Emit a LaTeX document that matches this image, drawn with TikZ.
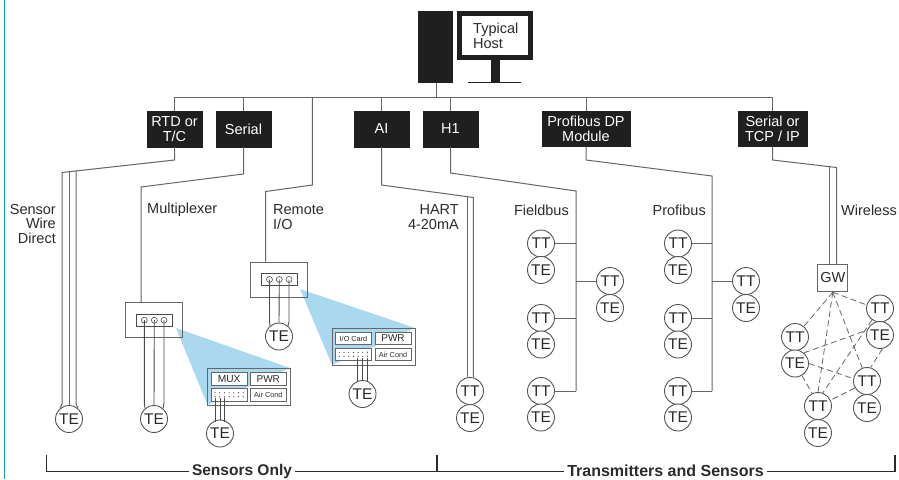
\documentclass[tikz,border=0pt]{standalone}
\usepackage{fontspec}
\setmainfont{Liberation Sans}
\definecolor{ink}{HTML}{2B2B2B}
\definecolor{wire}{HTML}{666666}
\definecolor{blk}{HTML}{1F1F1F}
\definecolor{edgeblue}{HTML}{12A0DC}
\definecolor{wedge}{HTML}{AAD8EE}
\tikzset{
  lbl/.style={inner sep=0pt,text=ink,font=\fontsize{14.5}{14.5}\selectfont},
  card/.style={draw=blk,fill=blk,text=white,inner sep=0pt,align=center,font=\fontsize{14.5}{14.5}\selectfont},
  wirel/.style={draw=wire,line width=1pt,line join=miter},
  wired/.style={draw=ink!85,line width=0.9pt},
  inst/.style={circle,draw=ink!80,line width=0.9pt,fill=white,minimum size=27pt,inner sep=0pt,text=ink,font=\fontsize{15.5}{15.5}\selectfont},
  radio/.style={draw=wire,line width=0.8pt,dash pattern=on 6pt off 3.5pt},
  cell/.style={draw=wire,line width=0.8pt,fill=white,inner sep=0pt,text=ink},
  panel/.style={draw=wire,line width=1pt},
  port/.style={circle,draw=ink!85,line width=0.6pt,minimum size=6pt,inner sep=0pt},
  brk/.style={draw=ink,line width=1.2pt},
  brklbl/.style={inner sep=0pt,text=ink,font=\fontsize{15.5}{15.5}\selectfont\bfseries}
}
\begin{document}
\begin{tikzpicture}[x=1pt,y=-1pt]
\useasboundingbox (0,0) rectangle (899,479);
\fill[white] (0,0) rectangle (899,479);
\coordinate (edgeT) at (4.5,0); \coordinate (edgeB) at (4.5,479);
\draw[edgeblue,line width=1.6pt] (edgeT) -- (edgeB);

% host
\node[fill=blk,minimum width=35pt,minimum height=72pt,inner sep=0pt] (tower) at (435.5,47) {};
\node[draw=blk,line width=5pt,fill=white,minimum width=71pt,minimum height=44pt,inner sep=0pt] (screen) at (495,35.5) {};
\node[lbl,align=left,anchor=west] (hostlbl) at (473,36) {Typical\\Host};
\node[fill=blk,minimum width=9pt,minimum height=23pt,inner sep=0pt] (stem) at (495.5,71) {};
\coordinate (baseL) at (468,82.3); \coordinate (baseR) at (521,82.3);
\draw[blk,line width=1pt] (baseL) -- (baseR);

% bus and cards
\node[card,minimum width=55pt,minimum height=36pt] (rtd) at (174.5,129) {RTD or\\T/C};
\node[card,minimum width=55pt,minimum height=36pt] (ser) at (243.5,129) {Serial};
\node[card,minimum width=55pt,minimum height=36pt] (ai) at (381.5,129) {AI};
\node[card,minimum width=55pt,minimum height=36pt] (h1) at (450.5,129) {H1};
\node[card,minimum width=88pt,minimum height=35pt] (pb) at (586,129) {Profibus DP\\Module};
\node[card,minimum width=69pt,minimum height=35pt] (tcp) at (772.5,129) {Serial or\\TCP / IP};
\coordinate (busL) at (174.5,97.5); \coordinate (busR) at (772.5,97.5);
\coordinate (hostbus) at (436,97.5);
\draw[wirel] (rtd.north) -- (busL) -- (busR) -- (tcp.north);
\draw[wirel] (tower.south -| hostbus) -- (hostbus);
\foreach \n in {ser,ai,h1,pb} { \draw[wirel] (\n.north) -- (\n.north |- busL); }

% sensor wire direct
\node[inst] (te1) at (69,419) {TE};
\coordinate (s1) at (174.5,160); \coordinate (s2) at (62,172.5);
\draw[wirel] (rtd.south) -- (s1) -- (s2) -- (62,404) -- (te1.130);
\draw[wirel] (69,171.7) -- (te1.north);
\draw[wirel] (76,171) -- (76,404) -- (te1.50);
\node[lbl,align=right,anchor=east] (direct) at (56,224) {Sensor\\Wire\\Direct};

% multiplexer
\fill[wedge] (176,328) -- (290,368) -- (207.5,405) -- cycle;
\node[panel,minimum width=57.5pt,minimum height=34.5pt,inner sep=0pt] (mbox) at (154.2,320.2) {};
\node[cell,draw=ink!85,minimum width=36pt,minimum height=11.5pt] (mrow) at (154.5,320.2) {};
\node[port] (m1) at (144.3,320.2) {}; \node[port] (m2) at (154.3,320.2) {}; \node[port] (m3) at (164,320.2) {};
\node[inst] (te2) at (154,419) {TE};
\coordinate (m4) at (243.5,174); \coordinate (m5) at (141,187);
\draw[wirel] (ser.south) -- (m4) -- (m5) -- (m5 |- mbox.north);
\draw[wired] (m1.center) -- (144.3,403) -- (te2.130);
\draw[wired] (m2.center) -- (te2.north);
\draw[wired] (m3.center) -- (164,403) -- (te2.50);
\node[lbl,anchor=west] (muxlbl) at (147,210) {Multiplexer};
\node[panel,minimum width=83pt,minimum height=37pt,inner sep=0pt] (mcab) at (249,386.5) {};
\node[cell,minimum width=36.5pt,minimum height=12.5pt,font=\fontsize{10.2}{10.2}\selectfont] (mux) at (229.2,379) {MUX};
\node[cell,minimum width=36pt,minimum height=12.5pt,font=\fontsize{10}{10}\selectfont] (mpwr) at (268.3,379) {PWR};
\node[cell,minimum width=36.5pt,minimum height=12.5pt] (mdots) at (229.2,395) {};
\node[cell,minimum width=36pt,minimum height=12.5pt,font=\fontsize{7.3}{7.3}\selectfont] (mair) at (268.3,395) {Air Cond};
\foreach \i in {0,...,6} { \fill[ink] (215+\i*4.7,392.8) circle (0.6pt); \fill[ink] (215+\i*4.7,396.8) circle (0.6pt); }
\node[inst] (te3) at (220,433.5) {TE};
\draw[wired,line width=0.8pt] (215.3,398) -- (215.3,421.5);
\draw[wired,line width=0.8pt] (220,398) -- (te3.north);
\draw[wired,line width=0.8pt] (224.7,398) -- (224.7,421.5);

% remote I/O
\fill[wedge] (300,289) -- (415,328) -- (332,365) -- cycle;
\node[panel,minimum width=57.5pt,minimum height=35pt,inner sep=0pt] (rbox) at (279.2,279.5) {};
\node[cell,draw=ink!85,minimum width=36pt,minimum height=11.5pt] (rrow) at (279.2,279.5) {};
\node[port] (r1) at (269.5,279.5) {}; \node[port] (r2) at (279.3,279.5) {}; \node[port] (r3) at (289,279.5) {};
\node[inst] (te4) at (279,336.5) {TE};
\coordinate (q1) at (312.3,97.5); \coordinate (q2) at (312.3,185); \coordinate (q3) at (265.7,191.5);
\draw[wirel] (q1) -- (q2) -- (q3) -- (q3 |- rbox.north);
\draw[wired] (r1.center) -- (269.5,322) -- (te4.130);
\draw[wired] (r2.center) -- (te4.north);
\draw[wired] (r3.center) -- (289,322) -- (te4.50);
\node[lbl,align=left,anchor=west] (remlbl) at (273,217) {Remote\\I/O};
\node[panel,minimum width=83pt,minimum height=37pt,inner sep=0pt] (rcab) at (373.5,346.5) {};
\node[cell,minimum width=36.5pt,minimum height=12.5pt,font=\fontsize{7.3}{7.3}\selectfont] (card) at (353.5,338.5) {I/O Card};
\node[cell,minimum width=36pt,minimum height=12.5pt,font=\fontsize{10}{10}\selectfont] (rpwr) at (393,338.5) {PWR};
\node[cell,minimum width=36.5pt,minimum height=12.5pt] (rdots) at (353.5,354.5) {};
\node[cell,minimum width=36pt,minimum height=12.5pt,font=\fontsize{7.3}{7.3}\selectfont] (rair) at (393,354.5) {Air Cond};
\foreach \i in {0,...,6} { \fill[ink] (339.3+\i*4.7,352.3) circle (0.6pt); \fill[ink] (339.3+\i*4.7,356.3) circle (0.6pt); }
\node[inst] (te5) at (362.5,394) {TE};
\draw[wired,line width=0.8pt] (357.8,358) -- (357.8,382);
\draw[wired,line width=0.8pt] (362.5,358) -- (te5.north);
\draw[wired,line width=0.8pt] (367.2,358) -- (367.2,382);

% HART
\node[inst] (tt6) at (470,391) {TT};
\node[inst] (te6) at (470,418) {TE};
\coordinate (a1) at (381.5,185); \coordinate (a2) at (473.3,197.5); \coordinate (a3) at (467,196.6);
\draw[wirel] (ai.south) -- (a1) -- (a2) -- (a2 |- tt6.north);
\draw[wirel] (a3) -- (a3 |- tt6.north);
\node[lbl,align=right,anchor=east] (hartlbl) at (459,217) {HART\\4-20mA};

% fieldbus
\coordinate (f1) at (450.5,173); \coordinate (f2) at (576,191); \coordinate (f3) at (576,391);
\draw[wirel] (h1.south) -- (f1) -- (f2) -- (f3);
\node[lbl,anchor=east] (fblbl) at (569,210) {Fieldbus};
\foreach \n/\x/\y/\j in {a/541/243.5/576,b/541/318/576,c/541/391/576} {
  \node[inst] (f\n t) at (\x,\y) {TT};
  \node[inst] (f\n e) at (\x,\y+26.5) {TE};
  \draw[wirel] (f\n t.east) -- (\j,\y);
}
\node[inst] (fdt) at (610,281) {TT};
\node[inst] (fde) at (610,308) {TE};
\draw[wirel] (fdt.west) -- (576,281);

% profibus
\coordinate (p1) at (586,160); \coordinate (p2) at (712,176); \coordinate (p3) at (712,391);
\draw[wirel] (pb.south) -- (p1) -- (p2) -- (p3);
\node[lbl,anchor=east] (pblbl) at (706,210) {Profibus};
\foreach \n/\x/\y/\j in {a/678/243.5/712,b/678/318/712,c/678/391/712} {
  \node[inst] (p\n t) at (\x,\y) {TT};
  \node[inst] (p\n e) at (\x,\y+26.5) {TE};
  \draw[wirel] (p\n t.east) -- (\j,\y);
}
\node[inst] (pdt) at (746,281) {TT};
\node[inst] (pde) at (746,308) {TE};
\draw[wirel] (pdt.west) -- (712,281);

% wireless
\node[draw=wire,line width=1pt,fill=white,minimum width=30pt,minimum height=27.5pt,inner sep=0pt,text=ink,font=\fontsize{14.5}{14.5}\selectfont] (gw) at (832.8,278) {GW};
\coordinate (w1) at (772.5,160); \coordinate (w2) at (836.7,167.5); \coordinate (w3) at (829.8,166.7);
\draw[wirel] (tcp.south) -- (w1) -- (w2) -- (w2 |- gw.north);
\draw[wirel] (w3) -- (w3 |- gw.north);
\node[lbl,anchor=west] (wlbl) at (841,210) {Wireless};
\node[inst] (x1t) at (880,308.5) {TT};
\node[inst] (x1e) at (880,335) {TE};
\node[inst] (x2t) at (795,337) {TT};
\node[inst] (x2e) at (795,363.5) {TE};
\node[inst] (x3t) at (867,381) {TT};
\node[inst] (x3e) at (867,408) {TE};
\node[inst] (x4t) at (818,406) {TT};
\node[inst] (x4e) at (818,433) {TE};
\draw[radio] (gw.south) -- (x2t.50);
\draw[radio] (gw.south) -- (x4t.north);
\draw[radio] (gw.south) -- (x3t.110);
\draw[radio] (gw.south) -- (x1t.165);
\draw[radio] (x2e.50) -- (x1e.160);
\draw[radio] (x2e.east) -- (x3t.170);
\draw[radio] (x2e.-60) -- (x4t.115);
\draw[radio] (x1t.-125) -- (x4t.70);
\draw[radio] (x1e.-80) -- (x3t.75);
\draw[radio] (x3t.-150) -- (x4t.25);

% brackets
\node[brklbl] (only) at (242,471) {Sensors Only};
\node[brklbl,font=\fontsize{16}{16}\selectfont\bfseries] (tas) at (665.5,471) {Transmitters and Sensors};
\coordinate (bl) at (46.5,455); \coordinate (blc) at (46.5,471.5);
\coordinate (bm) at (437,455); \coordinate (bmc) at (437,471.5);
\coordinate (br) at (895,455); \coordinate (brc) at (895,471.5);
\draw[brk] (bl) -- (blc) -- ([xshift=-3pt]only.west |- blc);
\draw[brk] ([xshift=3pt]only.east |- blc) -- (bmc) -- ([xshift=-3pt]tas.west |- bmc);
\draw[brk] (bm) -- (bmc);
\draw[brk] ([xshift=3pt]tas.east |- brc) -- (brc) -- (br);
\end{tikzpicture}
\end{document}
